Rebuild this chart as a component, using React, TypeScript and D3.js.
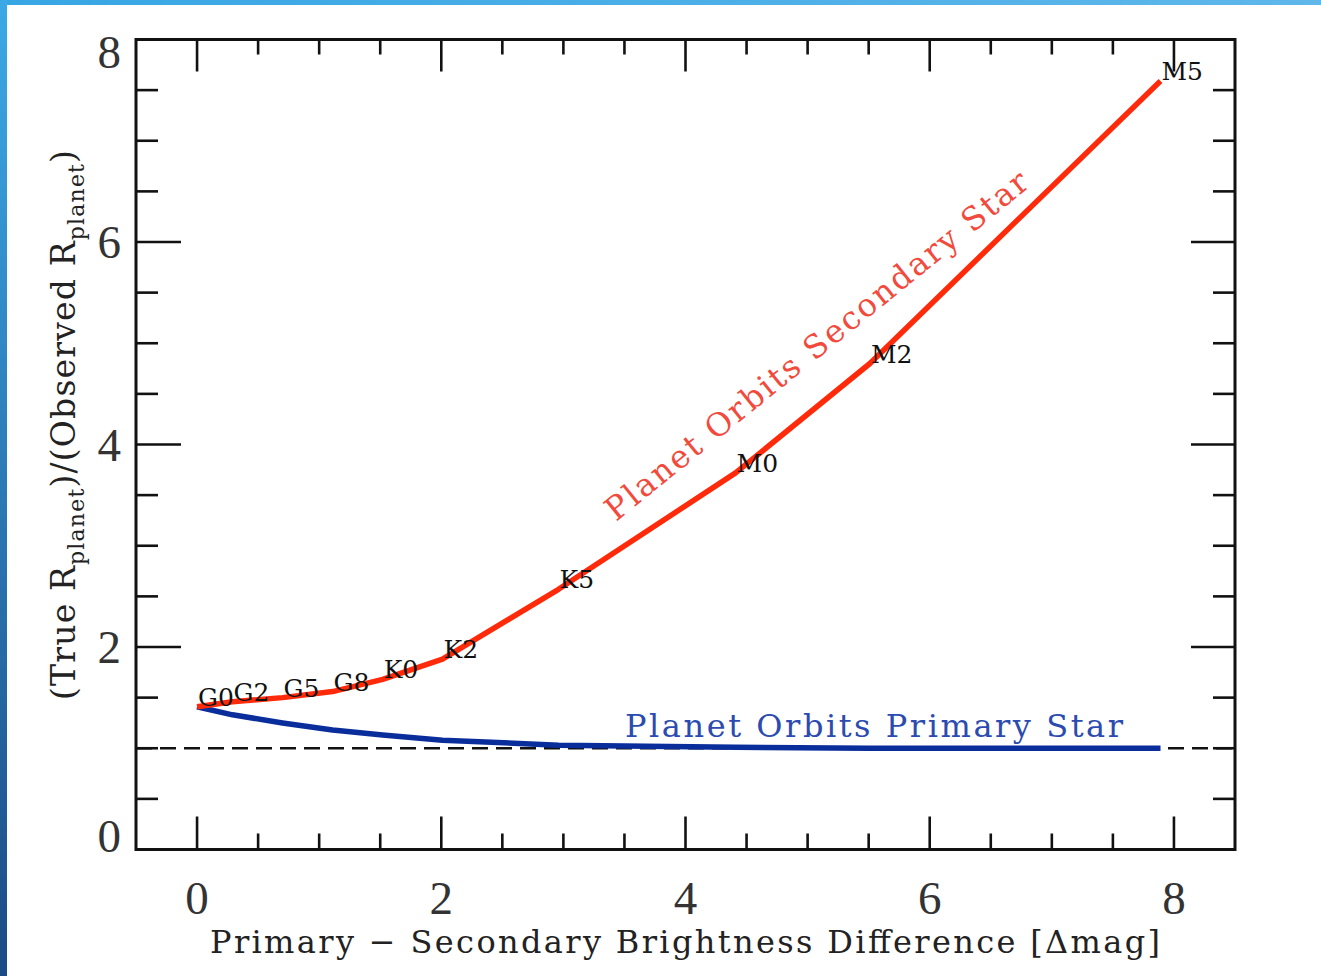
import React from "react";
import * as d3 from "d3";

// Spectral types of the secondary star and their brightness difference
const spectralTypes = ["G0", "G2", "G5", "G8", "K0", "K2", "K5", "M0", "M2", "M5"];
const deltaMag = [0.0, 0.29, 0.7, 1.11, 1.52, 2.01, 2.96, 4.41, 5.51, 7.89];
// (True R_planet)/(Observed R_planet) if planet orbits the secondary star
const secondaryRatio = [1.41, 1.46, 1.5, 1.56, 1.68, 1.88, 2.57, 3.72, 4.8, 7.59];
// ... if planet orbits the primary star
const primaryRatio = [1.41, 1.33, 1.25, 1.18, 1.13, 1.08, 1.03, 1.01, 1.0, 1.0];

const xMajorTicks = [0, 2, 4, 6, 8];
const xTickLabels = ["0", "2", "4", "6", "8"];
const yMajorTicks = [0, 2, 4, 6, 8];
const yTickLabels = ["0", "2", "4", "6", "8"];
const referenceLevel = 1;

const W = 1321;
const H = 976;
const L = 136, R = 1235, T = 39.5, B = 849.5;

export default function App() {
  const x = d3.scaleLinear().domain([-0.5, 8.5]).range([L, R]);
  const y = d3.scaleLinear().domain([0, 8]).range([B, T]);

  const xMinor = d3.range(0, 8.01, 0.5).filter((v) => !xMajorTicks.includes(v));
  const yMinor = d3.range(0.5, 8, 0.5).filter((v) => !yMajorTicks.includes(v));

  const line = d3
    .line<[number, number]>()
    .x((d) => x(d[0]))
    .y((d) => y(d[1]))
    .curve(d3.curveLinear);

  const secPts: [number, number][] = deltaMag.map((d, i) => [d, secondaryRatio[i]]);
  const priPts: [number, number][] = deltaMag.map((d, i) => [d, primaryRatio[i]]);

  const tickStroke = { stroke: "#111", strokeWidth: 2.6 };
  const serif = "'DejaVu Serif', serif";
  const numFont = "'Liberation Serif', serif";

  return (
    <svg
      width={W}
      height={H}
      style={{ position: "absolute", left: 0, top: 0, background: "#fff" }}
    >
      <defs>
        <linearGradient id="leftBar" x1="0" y1="0" x2="0" y2="1">
          <stop offset="0" stopColor="#3ba9e6" />
          <stop offset="1" stopColor="#1c4a84" />
        </linearGradient>
        <linearGradient id="topBar" x1="0" y1="0" x2="1" y2="0">
          <stop offset="0" stopColor="#37a6e4" />
          <stop offset="1" stopColor="#5fb7ea" />
        </linearGradient>
      </defs>
      <rect x={0} y={0} width={W} height={H} fill="#fff" />
      <rect x={0} y={0} width={W} height={5} fill="url(#topBar)" />
      <rect x={0} y={0} width={7} height={H} fill="url(#leftBar)" />

      {/* dashed reference line */}
      <line
        x1={L}
        x2={R}
        y1={y(referenceLevel)}
        y2={y(referenceLevel)}
        stroke="#111"
        strokeWidth={2.6}
        strokeDasharray="16 8"
      />

      {/* curves */}
      <path d={line(priPts) || ""} fill="none" stroke="#0a2d9c" strokeWidth={5.5} strokeLinejoin="round" />
      <path d={line(secPts) || ""} fill="none" stroke="#ff2a0a" strokeWidth={5.5} strokeLinejoin="round" />

      {/* spectral type labels */}
      {spectralTypes.map((s, i) => (
        <text
          key={s}
          x={x(deltaMag[i]) + 1}
          y={y(secondaryRatio[i]) - 1}
          fontFamily={serif}
          fontSize={25}
          fill="#111"
        >
          {s}
        </text>
      ))}

      {/* in-plot annotations */}
      <text
        transform={`translate(616,522) rotate(-39)`}
        fontFamily={serif}
        fontSize={32}
        fill="#f24a3c"
        textLength={534}
        lengthAdjust="spacing"
      >
        Planet Orbits Secondary Star
      </text>
      <text
        x={625}
        y={737}
        fontFamily={serif}
        fontSize={32}
        fill="#2b4bb0"
        textLength={498}
        lengthAdjust="spacing"
      >
        Planet Orbits Primary Star
      </text>

      {/* ticks */}
      {xMajorTicks.map((v) => (
        <g key={"xM" + v}>
          <line x1={x(v)} x2={x(v)} y1={B} y2={B - 33} {...tickStroke} />
          <line x1={x(v)} x2={x(v)} y1={T} y2={T + 32} {...tickStroke} />
        </g>
      ))}
      {xMinor.map((v) => (
        <g key={"xm" + v}>
          <line x1={x(v)} x2={x(v)} y1={B} y2={B - 16} {...tickStroke} />
          <line x1={x(v)} x2={x(v)} y1={T} y2={T + 15} {...tickStroke} />
        </g>
      ))}
      {yMajorTicks.map((v) => (
        <g key={"yM" + v}>
          <line x1={L} x2={L + 45} y1={y(v)} y2={y(v)} {...tickStroke} />
          <line x1={R} x2={R - 44} y1={y(v)} y2={y(v)} {...tickStroke} />
        </g>
      ))}
      {yMinor.map((v) => (
        <g key={"ym" + v}>
          <line x1={L} x2={L + 22} y1={y(v)} y2={y(v)} {...tickStroke} />
          <line x1={R} x2={R - 22} y1={y(v)} y2={y(v)} {...tickStroke} />
        </g>
      ))}

      {/* frame */}
      <rect x={L} y={T} width={R - L} height={B - T} fill="none" stroke="#111" strokeWidth={3} />

      {/* tick labels */}
      {xMajorTicks.map((v, i) => (
        <text
          key={"xl" + v}
          x={x(v)}
          y={898}
          textAnchor="middle"
          dominantBaseline="central"
          fontFamily={numFont}
          fontSize={47}
          fill="#333"
        >
          {xTickLabels[i]}
        </text>
      ))}
      {yMajorTicks.map((v, i) => (
        <text
          key={"yl" + v}
          x={121}
          y={Math.min(Math.max(y(v), 52), 836)}
          textAnchor="end"
          dominantBaseline="central"
          fontFamily={numFont}
          fontSize={47}
          fill="#333"
        >
          {yTickLabels[i]}
        </text>
      ))}

      {/* axis titles */}
      <text
        x={210}
        y={953}
        fontFamily={serif}
        fontSize={32}
        fill="#222"
        textLength={950}
        lengthAdjust="spacing"
      >
        Primary − Secondary Brightness Difference [Δmag]
      </text>
      <text
        transform="translate(75,700) rotate(-90)"
        fontFamily={serif}
        fontSize={33}
        fill="#222"
        textLength={550}
        lengthAdjust="spacing"
      >
        (True R
        <tspan fontSize={22} dy={9}>planet</tspan>
        <tspan dy={-9}>)/(Observed R</tspan>
        <tspan fontSize={22} dy={9}>planet</tspan>
        <tspan dy={-9}>)</tspan>
      </text>
    </svg>
  );
}
